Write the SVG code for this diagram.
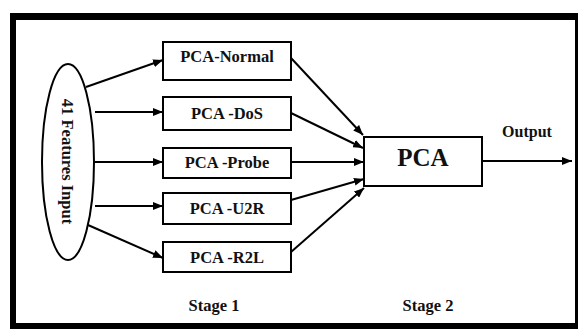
<svg xmlns="http://www.w3.org/2000/svg" width="578" height="329" viewBox="0 0 578 329">
  <defs>
    <marker id="ah" markerUnits="userSpaceOnUse" markerWidth="10" markerHeight="8" refX="10" refY="4" orient="auto">
      <path d="M0,0 L10,4 L0,8 z" fill="#000"/>
    </marker>
    <style>
      .box { fill: #fff; stroke: #000; stroke-width: 2; }
      .lbl { font-family: "Liberation Serif", "Times New Roman", serif; font-weight: bold; fill: #111; text-anchor: middle; }
      .conn line { stroke: #000; stroke-width: 2; marker-end: url(#ah); }
    </style>
  </defs>
  <rect x="0" y="0" width="578" height="329" fill="#fff"/>
  <g id="frame">
    <rect x="10" y="13" width="568" height="316" fill="#000"/>
    <rect x="16" y="20" width="559" height="303" fill="#fff"/>
  </g>
  <g id="input">
    <ellipse cx="68" cy="162" rx="26" ry="98" fill="#fff" stroke="#000" stroke-width="2"/>
    <text class="lbl" font-size="16.5" transform="translate(62,161.5) rotate(90)" x="0" y="0">41 Features Input</text>
  </g>
  <g id="pca-normal">
    <rect class="box" x="163" y="42" width="128" height="38"/>
    <text class="lbl" font-size="16.5" x="227" y="62">PCA-Normal</text>
  </g>
  <g id="pca-dos">
    <rect class="box" x="163" y="97" width="128" height="33"/>
    <text class="lbl" font-size="16.5" x="227" y="119">PCA -DoS</text>
  </g>
  <g id="pca-probe">
    <rect class="box" x="163" y="148" width="128" height="30"/>
    <text class="lbl" font-size="16.5" x="227" y="168">PCA -Probe</text>
  </g>
  <g id="pca-u2r">
    <rect class="box" x="163" y="193" width="128" height="31"/>
    <text class="lbl" font-size="16.5" x="227" y="214">PCA -U2R</text>
  </g>
  <g id="pca-r2l">
    <rect class="box" x="163" y="242" width="128" height="30"/>
    <text class="lbl" font-size="16.5" x="227" y="263">PCA -R2L</text>
  </g>
  <g id="pca">
    <rect class="box" x="364" y="137" width="118" height="49"/>
    <text class="lbl" font-size="25" x="423" y="166">PCA</text>
  </g>
  <g id="labels">
    <text class="lbl" font-size="16" x="527" y="137">Output</text>
    <text class="lbl" font-size="16.5" x="214" y="311">Stage 1</text>
    <text class="lbl" font-size="16.5" x="428" y="311">Stage 2</text>
  </g>
  <g id="connectors" class="conn">
    <line x1="86" y1="87" x2="163" y2="60"/>
    <line x1="95" y1="112" x2="163" y2="112"/>
    <line x1="95" y1="162" x2="163" y2="162"/>
    <line x1="95" y1="206" x2="163" y2="206"/>
    <line x1="88" y1="225" x2="163" y2="258"/>
    <line x1="291" y1="58" x2="363" y2="135"/>
    <line x1="291" y1="113" x2="363" y2="148"/>
    <line x1="291" y1="162" x2="364" y2="162"/>
    <line x1="291" y1="200" x2="364" y2="179"/>
    <line x1="291" y1="252" x2="364" y2="188"/>
    <line x1="482" y1="161" x2="572" y2="161"/>
  </g>
</svg>
